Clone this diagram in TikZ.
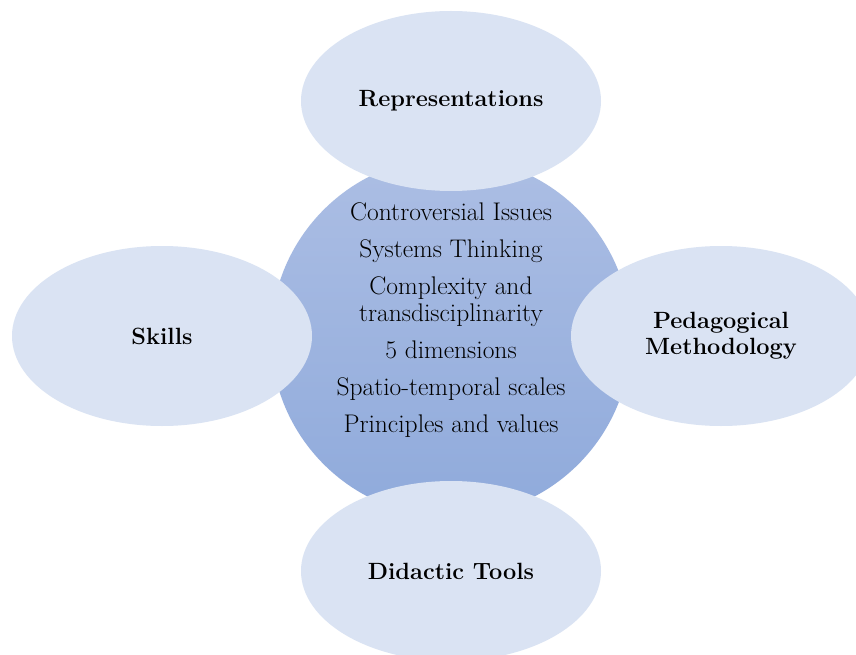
\documentclass[tikz,border=0pt]{standalone}
\usepackage{fontspec}
\usetikzlibrary{shapes,positioning}
\usepackage{xcolor}
\definecolor{bubblefill}{RGB}{218,227,243}
\definecolor{hubtop}{RGB}{172,190,228}
\definecolor{hubbottom}{RGB}{143,170,219}

\begin{document}
\begin{tikzpicture}[x=1pt, y=-1pt,
    bubble/.style={ellipse, fill=bubblefill, minimum width=300pt, minimum height=180pt,
        inner sep=0pt, align=center, font=\fontsize{23.5}{26}\selectfont\bfseries},
    hub/.style={circle, top color=hubtop, bottom color=hubbottom, minimum size=360pt, inner sep=0pt}]
    \useasboundingbox (0,0) rectangle (856,655);
    \fill[white] (0,0) rectangle (856,655);
    \clip (0,0) rectangle (856,655);
    % Big circle in the middle
    \node[hub] (hub) at (451,337) {};
    % Four ellipses round it
    \node[bubble] (repr) at (451,101) {Representations};
    \node[bubble] (skills) at (162,336) {Skills};
    \node[bubble] (method) at (721,336) {Pedagogical\\Methodology};
    \node[bubble] (tools) at (451,571) {Didactic Tools};
    % Themes listed inside the circle
    \node[align=center, font=\fontsize{25.5}{27}\selectfont] (themes) at (451,320)
        {Controversial Issues\\[10pt]
         Systems Thinking\\[10pt]
         Complexity and\\transdisciplinarity\\[10pt]
         5 dimensions\\[10pt]
         Spatio-temporal scales\\[10pt]
         Principles and values};
\end{tikzpicture}
\end{document}
